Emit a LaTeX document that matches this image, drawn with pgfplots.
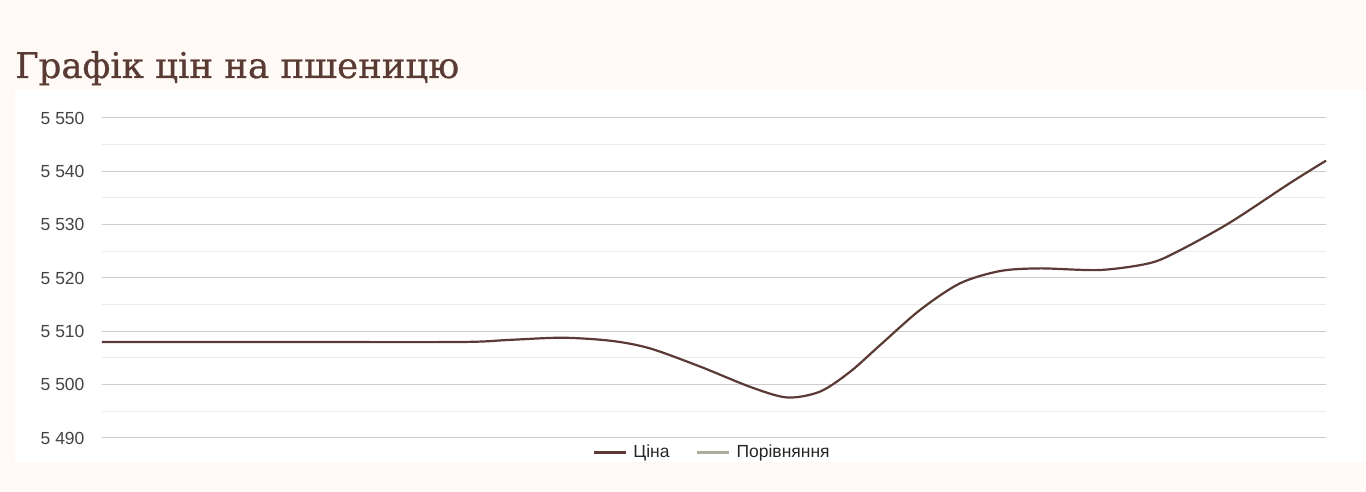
\documentclass[border=0pt]{standalone}
\usepackage{fontspec}
\setmainfont{Liberation Sans}
\newfontfamily\titlefont[FakeBold=0.6]{DejaVu Serif}
\usepackage{pgfplots}
\pgfplotsset{compat=1.18}
\definecolor{bgcream}{HTML}{FFFAF6}
\definecolor{pricebrown}{HTML}{5B3A35}
\definecolor{titlebrown}{HTML}{5A3B34}
\definecolor{cmpgreen}{HTML}{A9AE9B}
\definecolor{majgrid}{HTML}{CCCCCC}
\definecolor{mingrid}{HTML}{EBEBEB}
\definecolor{ticktext}{HTML}{444444}
\begin{document}
\begin{tikzpicture}[x=1pt,y=1pt]
\fill[bgcream] (0,0) rectangle (1366,492);
\fill[white] (15,30) rectangle (1366,402);
\node[anchor=base west, text=titlebrown, inner sep=0pt] at (15,414) {\titlefont\fontsize{35.5}{42}\selectfont Графік цін на пшеницю};
\begin{axis}[
  at={(102pt,54pt)}, anchor=south west,
  scale only axis, width=1224pt, height=320pt,
  xmin=102, xmax=1326, ymin=5490, ymax=5550,
  axis line style={draw=none},
  xtick=\empty,
  ytick={5490,5500,5510,5520,5530,5540,5550},
  yticklabels={5 490,5 500,5 510,5 520,5 530,5 540,5 550},
  minor ytick={5495,5505,5515,5525,5535,5545},
  ymajorgrids, yminorgrids,
  major grid style={majgrid, line width=1pt},
  minor grid style={mingrid, line width=1pt},
  tick style={draw=none},
  yticklabel style={font=\fontsize{17.5}{20}\selectfont, text=ticktext, anchor=east, xshift=-14pt},
  clip=false,
  legend columns=2,
  legend style={draw=none, fill=none, at={(0.5,-0.044)}, anchor=center, xshift=-2pt,
    font=\fontsize{17.5}{20}\selectfont, text=black!85,
    /tikz/every odd column/.append style={column sep=4pt},
    /tikz/every even column/.append style={column sep=24pt}},
  legend image code/.code={\draw[#1, line width=3pt] (0pt,0pt) -- (32pt,0pt);},
  legend image post style={line width=3pt},
]
\addplot[pricebrown, line width=2.2pt, smooth, tension=0.5] coordinates {
(102,5508) (280,5508) (460,5508) (510,5508.4) (563,5508.8) (612,5508.2)
(650,5506.8) (700,5503.4) (750,5499.6) (787,5497.6) (820,5498.7)
(850,5502.4) (880,5507.4) (920,5514.0) (960,5519.0) (1000,5521.3)
(1040,5521.8) (1100,5521.5) (1150,5522.8) (1180,5525.2) (1230,5530.4)
(1290,5537.8) (1326,5542)
};
\addlegendentry{Ціна}
\addlegendimage{cmpgreen}
\addlegendentry{Порівняння}
\end{axis}
\end{tikzpicture}
\end{document}
